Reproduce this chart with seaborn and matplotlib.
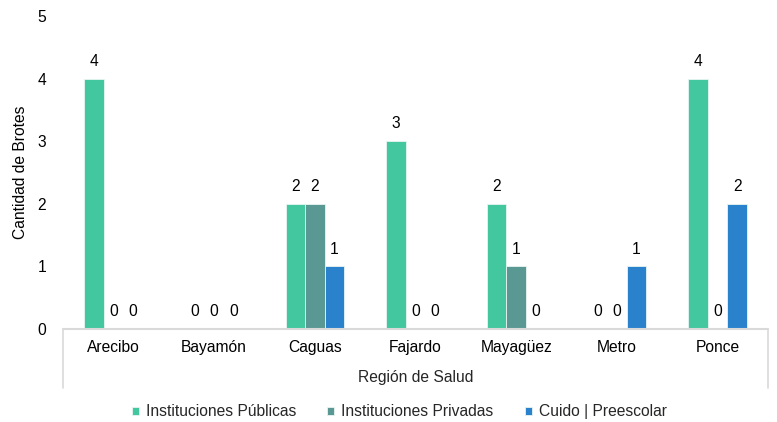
import numpy as np
import pandas as pd
import seaborn as sns
import matplotlib
import matplotlib.pyplot as plt
from matplotlib.lines import Line2D

sns.set_theme(style='white')
FS = 11.25
matplotlib.rcParams.update({'font.size': FS, 'font.family': ['Liberation Sans', 'DejaVu Sans']})

Regiones = ['Arecibo', 'Bayamón', 'Caguas', 'Fajardo', 'Mayagüez', 'Metro', 'Ponce']
Brotes = {
    'Instituciones Públicas': [4, 0, 2, 3, 2, 0, 4],
    'Instituciones Privadas': [0, 0, 2, 0, 1, 0, 0],
    'Cuido | Preescolar': [0, 0, 1, 0, 0, 1, 2],
}
Colores = ['#43C79E', '#5A9993', '#2A82CC']

df = pd.DataFrame(Brotes, index = Regiones).reset_index().rename(columns = {'index': 'Region'})
df_melt = pd.melt(df, id_vars = ['Region'], var_name = 'Tipo', value_name = 'Brotes')

fig = plt.figure(figsize = (7.77, 4.22), dpi = 100)
ax = fig.add_axes([0.0811, 0.2204, 0.9073, 0.7416])

sns.barplot(x = 'Region', y = 'Brotes', hue = 'Tipo', data = df_melt, palette = Colores,
            width = 0.58, ax = ax, legend = True, saturation = 1, edgecolor = '#EAF5F2', linewidth = 0.6)

for cont in ax.containers:
    ax.bar_label(cont, padding = 7, fontsize = FS, color = '#000000')

ax.set_ylim(0, 5)
ax.set_xlim(-0.5, 6.5)
ax.set_yticks(range(6))
ax.tick_params(axis = 'y', length = 0, pad = 12, labelsize = FS, labelcolor = '#000000')
ax.tick_params(axis = 'x', length = 0, pad = 8, labelsize = FS, labelcolor = '#000000')
for s in ax.spines.values():
    s.set_visible(False)

# category axis box
gris = '#D9D9D9'
ax.add_line(Line2D([0, 1], [0, 0], transform = ax.transAxes, color = gris, lw = 1.5, clip_on = False))
ax.add_line(Line2D([0, 0], [0, -0.1885], transform = ax.transAxes, color = gris, lw = 1.2, clip_on = False))
ax.add_line(Line2D([1, 1], [0, -0.1885], transform = ax.transAxes, color = gris, lw = 1.2, clip_on = False))

ax.set_xlabel('')
ax.set_ylabel('Cantidad de Brotes', fontsize = FS, color = '#000000', labelpad = 7)
ax.text(0.5, -0.1565, 'Región de Salud', transform = ax.transAxes, ha = 'center', va = 'center', fontsize = FS)

handles, labels = ax.get_legend_handles_labels()
ax.get_legend().remove()
fig.legend(handles, labels, loc = 'center', bbox_to_anchor = (0.514, 0.0237), ncol = 3, frameon = False,
           fontsize = FS, handlelength = 0.45, handleheight = 0.45, handletextpad = 0.45, columnspacing = 2.0,
           borderpad = 0, borderaxespad = 0)

fig.savefig('out.png', dpi = 100)
